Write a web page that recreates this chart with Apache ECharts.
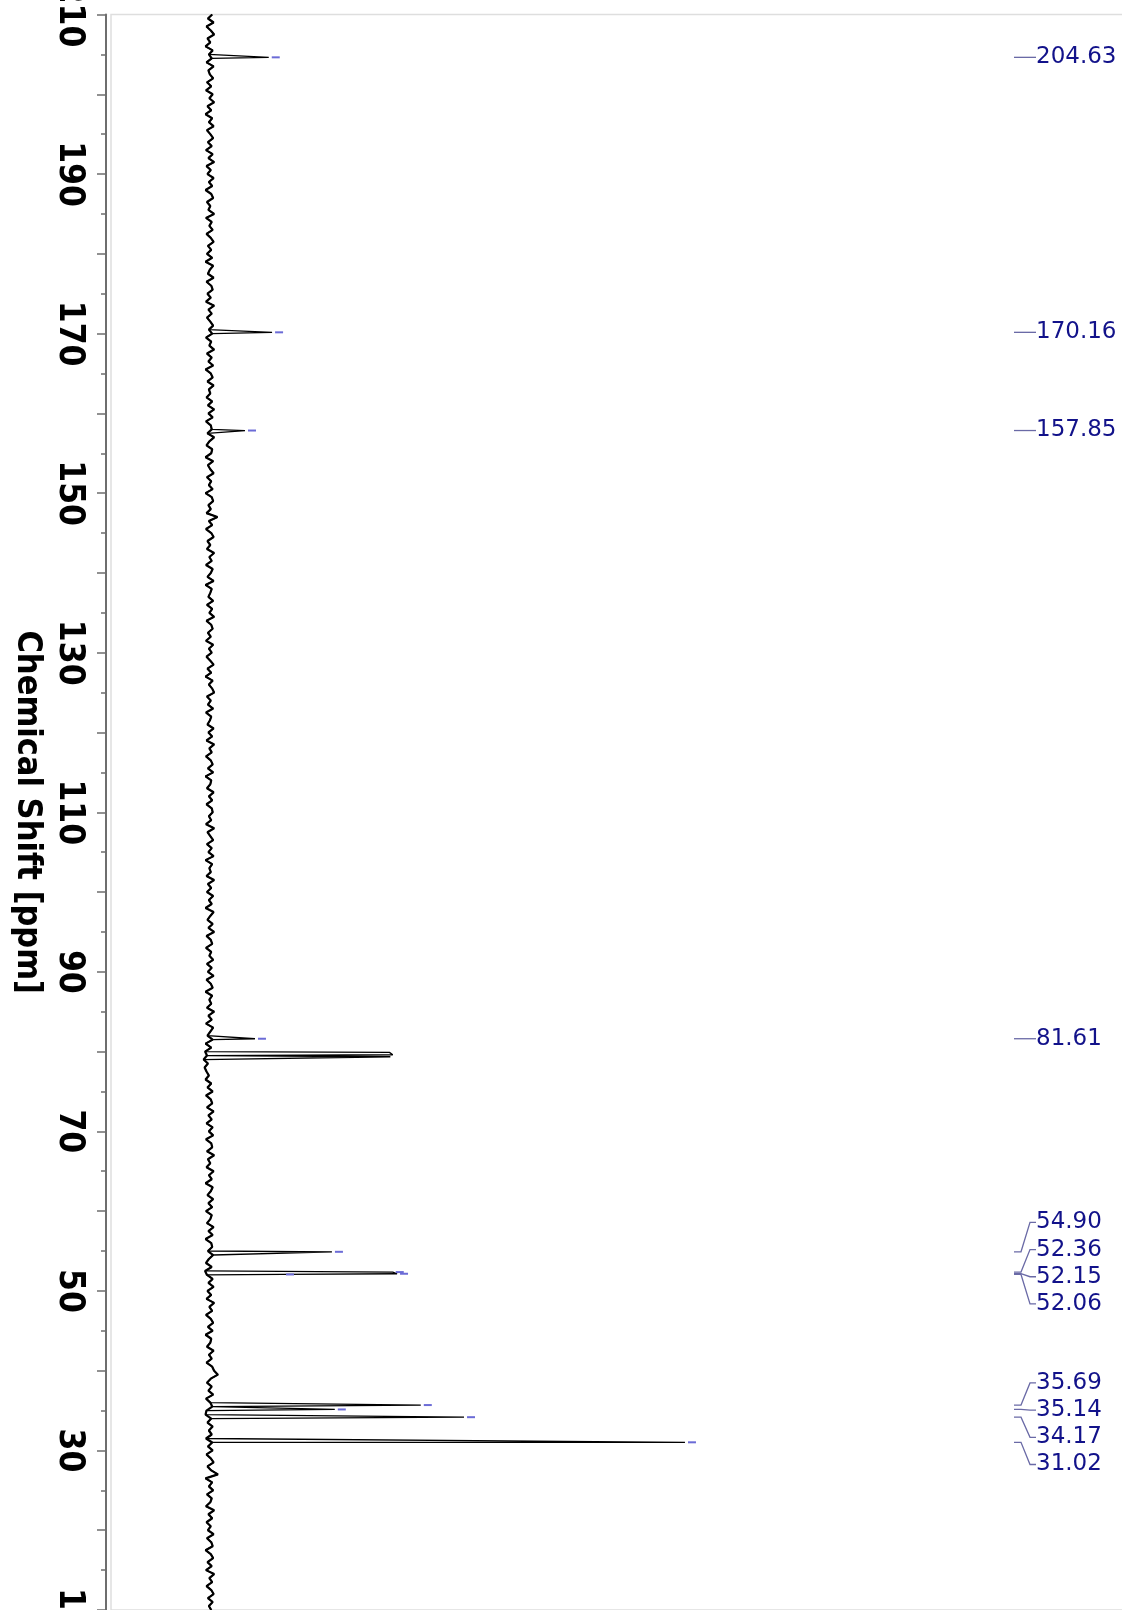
<!DOCTYPE html>
<html><head><meta charset="utf-8">
<script src="https://cdn.jsdelivr.net/npm/echarts@6/dist/echarts.min.js"></script>
<style>html,body{margin:0;padding:0;background:#fff;overflow:hidden}#chart{width:1122px;height:1610px}</style>
</head><body><div id="chart"></div>
<script>
// ---- data ----
const shiftMin = 10, shiftMax = 210, shiftMajor = 10;
const axisTitle = 'Chemical Shift [ppm]';
// labelled peaks (ppm) and their relative intensities (31.02 ppm = 100)
const labelPpm    = [204.63, 170.16, 157.85, 81.61, 54.90, 52.36, 52.15, 52.06, 35.69, 35.14, 34.17, 31.02];
const labelHeight = [12.4,   13.1,   7.4,    9.5,   25.7,  38.5,  39.4,  15.4,  44.4,  26.3,  53.5,  100];
// unlabelled strong lines near 79.6 ppm
const otherPpm    = [79.9, 79.6, 79.35];
const otherHeight = [37.8, 38.5, 38.0];
// baseline noise, read every 0.5 ppm from 210 down to 10 ppm
const noiseStart = 210, noiseStep = 0.5;
const noise = [
 0.5,-0.4,0.8,-0.7,0.2,0.9,-0.5,0.1,-0.9,0.6,-0.2,0.4,-0.7,0.8,-0.3,0.0,0.7,-0.6,0.3,-0.8,
 0.6,-0.1,0.9,-0.5,0.3,-0.9,0.5,-0.2,0.8,-0.6,0.1,0.7,-0.4,0.4,-0.8,0.6,-0.3,0.9,-0.7,0.2,
 -0.5,0.8,-0.2,0.5,-0.9,0.3,0.7,-0.6,0.1,-0.3,0.9,-0.8,0.4,-0.1,0.6,-0.7,0.2,0.8,-0.4,0.3,
 -0.6,0.5,-0.9,0.7,0.0,-0.4,0.8,-0.7,0.3,0.6,-0.5,0.2,-0.8,0.9,-0.3,0.4,-0.6,0.1,0.7,-0.2,
 0.5,-0.8,0.3,-0.1,0.9,-0.6,0.4,-0.3,0.7,-0.9,0.2,0.6,-0.5,0.8,-0.2,0.1,-0.7,0.5,-0.4,0.9,
 -0.3,0.6,-0.8,0.2,0.4,-0.5,0.9,-0.1,-0.7,0.5,0.3,-0.9,0.7,-0.4,0.1,0.8,-0.6,0.3,-0.2,0.6,
 -0.9,0.4,0.7,-0.3,0.2,-0.7,1.6,-0.2,0.5,-0.8,0.3,0.8,-0.5,0.1,-0.6,0.9,-0.1,0.4,-0.8,0.6,
 0.2,-0.5,0.8,-0.9,0.4,0.1,-0.3,0.7,-0.6,0.5,-0.1,0.9,-0.7,0.3,0.6,-0.4,0.2,-0.8,0.7,-0.2,
 0.4,-0.7,0.1,0.8,-0.5,0.3,-0.9,0.6,-0.2,0.5,0.9,-0.6,0.2,-0.4,0.7,-0.8,0.3,0.0,-0.5,0.8,
 -0.3,0.5,-0.7,0.9,-0.1,0.4,-0.8,0.2,0.6,-0.4,0.7,-0.9,0.3,0.1,-0.6,0.8,-0.2,0.5,-0.7,0.4,
 0.6,-0.2,0.3,-0.8,0.9,-0.5,0.1,0.7,-0.6,0.4,-0.3,0.8,-0.9,0.5,-0.1,0.2,-0.7,0.9,-0.4,0.3,
 -0.6,0.7,-0.2,0.4,-0.9,0.8,0.1,-0.5,0.6,-0.3,0.9,-0.7,0.2,0.5,-0.8,0.3,-0.1,0.7,-0.6,0.4,
 -0.4,0.8,-0.7,0.2,0.6,-0.9,0.5,-0.1,0.3,-0.6,0.9,-0.3,0.4,-0.8,0.7,0.1,-0.5,0.6,-0.9,0.3,
 -1.0,-0.6,-1.3,-0.4,-1.1,-0.7,-0.2,-0.9,0.3,-0.5,0.6,-0.8,0.2,0.5,-0.6,0.8,-0.3,0.4,-0.7,0.6,
 -0.2,0.7,-0.8,0.3,0.5,-0.6,0.9,-0.4,0.1,-0.7,0.8,-0.2,0.4,-0.9,0.6,0.2,-0.5,0.7,-0.3,0.5,
 -0.8,0.4,0.1,-0.6,0.8,-0.3,0.6,-0.9,0.3,0.5,-0.4,0.7,-0.2,-0.8,0.4,-1.0,-0.6,0.6,-0.3,0.8,
 -0.5,0.3,-0.7,0.9,-0.1,0.5,-0.8,0.2,0.7,-0.4,0.6,-0.9,0.3,0.1,-0.6,0.8,-0.2,0.4,-0.7,0.5,
 0.9,1.7,0.2,-0.6,0.4,-0.3,0.7,-0.8,0.1,0.5,-0.7,-0.9,0.3,-0.5,0.6,-0.2,0.4,-0.8,0.5,-0.4,
 0.6,-0.7,0.2,0.8,-0.5,0.3,1.7,-0.9,0.5,-0.2,0.7,-0.6,0.4,0.1,-0.8,0.9,-0.3,0.5,-0.7,0.2,
 -0.4,0.8,-0.6,0.3,0.6,-0.9,0.2,0.7,-0.5,0.4,-0.8,0.9,-0.1,0.5,-0.7,0.3,0.8,-0.4,0.6,-0.2,
 0.3
];

// ---- build trace [intensity, ppm] sorted high->low ppm ----
const trace = noise.map((v, i) => [v, noiseStart - i * noiseStep]);
labelPpm.forEach((p, i) => trace.push([labelHeight[i], p]));
otherPpm.forEach((p, i) => trace.push([otherHeight[i], p]));
trace.sort((a, b) => b[1] - a[1]);
const baselineOnly = noise.map((v, i) => [v, noiseStart - i * noiseStep]);

const labelData = labelPpm.map((p, i) => [labelHeight[i], p, i]);

// label de-overlap (vertical spacing between stacked labels)
const LABEL_GAP = 27.2;
function layoutLabels(ys) {
  const order = ys.map((y, i) => i).sort((a, b) => ys[a] - ys[b]);
  const clusters = [];
  order.forEach(i => {
    const last = clusters[clusters.length - 1];
    if (last && ys[i] - ys[last[last.length - 1]] < LABEL_GAP) last.push(i);
    else clusters.push([i]);
  });
  const out = [];
  clusters.forEach(c => {
    const mid = (ys[c[0]] + ys[c[c.length - 1]]) / 2;
    c.forEach((idx, k) => { out[idx] = mid + (k - (c.length - 1) / 2) * LABEL_GAP; });
  });
  return out;
}

const chart = echarts.init(document.getElementById('chart'), null, {renderer: 'canvas'});
const FONT_AX = '"DejaVu Sans Condensed", "DejaVu Sans", sans-serif';

chart.setOption({
  animation: false,
  backgroundColor: '#ffffff',
  grid: {left: 111, right: -2, top: 14.5, bottom: 0, containLabel: false, outerBoundsMode: 'none',
         show: true, borderColor: '#dedede', borderWidth: 1.5, backgroundColor: 'transparent'},
  xAxis: {type: 'value', min: -20.8, max: 192.4, show: false, axisLine: {onZero: false}},
  yAxis: {
    type: 'value', min: shiftMin, max: shiftMax, interval: shiftMajor, offset: 5, position: 'left',
    name: axisTitle, nameLocation: 'middle', nameRotate: -90, nameGap: 59,
    nameTextStyle: {fontFamily: FONT_AX, fontWeight: 'bold', fontSize: 34, color: '#000'},
    axisLine: {show: true, onZero: false, lineStyle: {color: '#6e6e6e', width: 2}},
    axisTick: {show: true, length: 9, lineStyle: {color: '#6e6e6e', width: 1.5}},
    minorTick: {show: true, splitNumber: 2, length: 5, lineStyle: {color: '#6e6e6e', width: 1.5}},
    splitLine: {show: false}, minorSplitLine: {show: false},
    axisLabel: {
      rotate: -90, margin: 19, showMinLabel: true, showMaxLabel: true, hideOverlap: false,
      fontFamily: FONT_AX, fontWeight: 'bold', fontSize: 35, color: '#000',
      formatter: v => (Math.round(v) % 20 === 10 ? String(Math.round(v)) : '')
    }
  },
  series: [
    {
      type: 'line', data: baselineOnly, showSymbol: false, symbol: 'none', silent: true,
      lineStyle: {color: '#000', width: 2.2}, clip: true, z: 2
    },
    {
      type: 'line', data: trace, showSymbol: false, symbol: 'none',
      lineStyle: {color: '#000', width: 1.3}, clip: true, z: 3
    },
    {
      type: 'custom', data: labelData, clip: false, z: 4,
      encode: {x: 0, y: 1},
      renderItem: function (params, api) {
        const i = api.value(2);
        const tip = api.coord([api.value(0), api.value(1)]);
        const ys = labelPpm.map(p => api.coord([0, p])[1]);
        const ly = layoutLabels(ys)[i];
        const W = api.getWidth();
        const xa = W - 108;
        const y0 = ys[i];
        return {
          type: 'group',
          children: [
            {type: 'line', shape: {x1: tip[0] + 3, y1: tip[1], x2: tip[0] + 11, y2: tip[1]},
             style: {stroke: '#6b6bd6', lineWidth: 2}},
            {type: 'polyline', shape: {points: [[xa, y0], [xa + 7, y0], [xa + 16, ly], [xa + 22, ly]]},
             style: {stroke: '#6a6aa6', lineWidth: 1.3, fill: null}},
            {type: 'text', x: W - 86, y: ly,
             style: {text: labelPpm[i].toFixed(2), fill: '#12128a', font: '23px "DejaVu Sans", sans-serif',
                     align: 'left', verticalAlign: 'middle', textAlign: 'left', textVerticalAlign: 'middle'}}
          ]
        };
      }
    }
  ]
});
</script>
</body></html>
